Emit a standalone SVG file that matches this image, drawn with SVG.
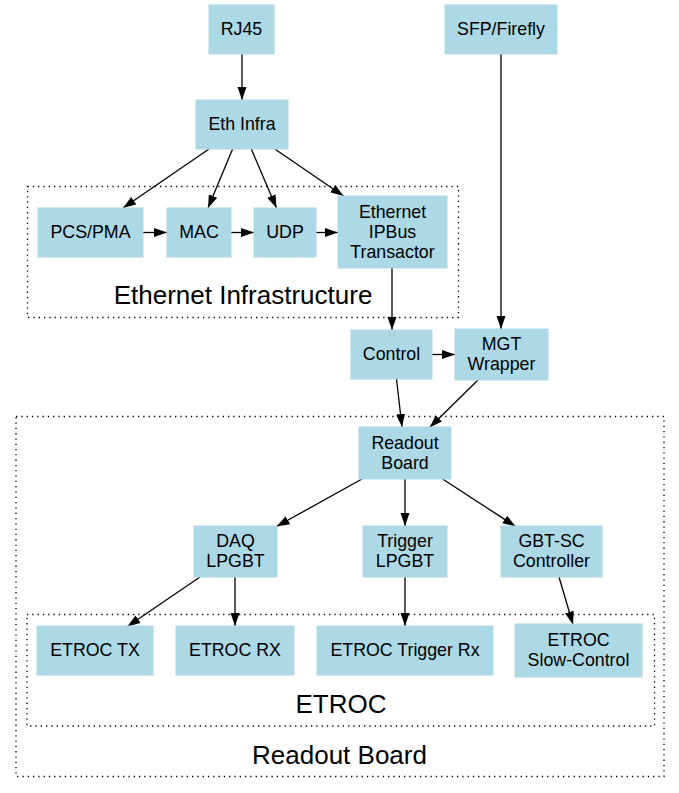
<svg xmlns="http://www.w3.org/2000/svg" width="679" height="793" viewBox="0 0 679 793">
<defs>
<marker id="ah" markerUnits="userSpaceOnUse" markerWidth="13" markerHeight="10" viewBox="0 0 13 9" refX="13" refY="4.5" orient="auto">
<path d="M0,0 L13,4.5 L0,9 z" fill="#000"/>
</marker>
<style>
.n rect{fill:#ADD8E6;stroke:#ADD8E6;stroke-width:1}
.n text{font-family:"Liberation Sans",Arial,sans-serif;font-size:17.8px;fill:#000;text-anchor:middle}
.c rect{fill:none;stroke:#000;stroke-width:1.3;stroke-dasharray:1.3,4}
.c text{font-family:"Liberation Sans",Arial,sans-serif;font-size:26px;fill:#000;text-anchor:middle}
.e line{stroke:#000;stroke-width:1.3;marker-end:url(#ah)}
</style>
</defs>
<rect width="679" height="793" fill="#fff"/>
<g id="clusters" class="c">
<g id="cluster_eth"><rect x="27.5" y="186.5" width="431" height="131"/><text x="243" y="304">Ethernet Infrastructure</text></g>
<g id="cluster_rb"><rect x="16" y="416.5" width="648" height="360"/><text x="339.5" y="764">Readout Board</text></g>
<g id="cluster_etroc"><rect x="27" y="614.5" width="627.5" height="111.5"/><text x="341" y="712.5">ETROC</text></g>
</g>
<g id="edges" class="e">
<line x1="242" y1="54" x2="242" y2="100"/>
<line x1="501" y1="54" x2="501" y2="329"/>
<line x1="209" y1="149" x2="123" y2="208"/>
<line x1="232.6" y1="149" x2="208" y2="208"/>
<line x1="251.3" y1="149" x2="276.5" y2="208"/>
<line x1="274.8" y1="149" x2="343.5" y2="196"/>
<line x1="143" y1="232.5" x2="167" y2="232.5"/>
<line x1="231" y1="232.5" x2="254" y2="232.5"/>
<line x1="316" y1="232.5" x2="338" y2="232.5"/>
<line x1="392" y1="268" x2="392" y2="330"/>
<line x1="432" y1="354.5" x2="455" y2="354.5"/>
<line x1="396.5" y1="379" x2="402" y2="427"/>
<line x1="478" y1="380" x2="429.6" y2="427.5"/>
<line x1="362" y1="479" x2="276.5" y2="526.5"/>
<line x1="405" y1="479" x2="405" y2="526"/>
<line x1="442.6" y1="479" x2="515.6" y2="526.5"/>
<line x1="200" y1="577" x2="127.4" y2="626.5"/>
<line x1="235" y1="577" x2="235" y2="626"/>
<line x1="405" y1="577" x2="405" y2="626"/>
<line x1="559" y1="577" x2="573" y2="624.5"/>
</g>
<g id="rj45" class="n"><rect x="209" y="5" width="65" height="49"/><text x="241.5" y="35">RJ45</text></g>
<g id="sfp" class="n"><rect x="445" y="5" width="112" height="49"/><text x="501" y="35">SFP/Firefly</text></g>
<g id="ethinfra" class="n"><rect x="196" y="100" width="92" height="49"/><text x="242" y="130">Eth Infra</text></g>
<g id="pcspma" class="n"><rect x="38" y="208" width="105" height="49"/><text x="90.5" y="238">PCS/PMA</text></g>
<g id="mac" class="n"><rect x="167" y="208" width="64" height="49"/><text x="199" y="238">MAC</text></g>
<g id="udp" class="n"><rect x="254" y="208" width="62" height="49"/><text x="285" y="238">UDP</text></g>
<g id="ipbus" class="n"><rect x="338" y="196" width="109" height="72"/><text x="392.5" y="217.5">Ethernet</text><text x="392.5" y="237.5">IPBus</text><text x="392.5" y="257.5">Transactor</text></g>
<g id="control" class="n"><rect x="351" y="330" width="81" height="49"/><text x="391.5" y="360">Control</text></g>
<g id="mgt" class="n"><rect x="455" y="329" width="93" height="51"/><text x="501.5" y="350">MGT</text><text x="501.5" y="370">Wrapper</text></g>
<g id="readout" class="n"><rect x="359" y="427" width="92" height="52"/><text x="405" y="448.5">Readout</text><text x="405" y="468.5">Board</text></g>
<g id="daq" class="n"><rect x="194" y="526" width="83" height="51"/><text x="235.5" y="547">DAQ</text><text x="235.5" y="567">LPGBT</text></g>
<g id="trig" class="n"><rect x="363" y="526" width="84" height="51"/><text x="405" y="547">Trigger</text><text x="405" y="567">LPGBT</text></g>
<g id="gbtsc" class="n"><rect x="501" y="526" width="101" height="51"/><text x="551.5" y="547">GBT-SC</text><text x="551.5" y="567">Controller</text></g>
<g id="etroctx" class="n"><rect x="37" y="626" width="116" height="49"/><text x="95" y="656">ETROC TX</text></g>
<g id="etrocrx" class="n"><rect x="176" y="626" width="118" height="49"/><text x="235" y="656">ETROC RX</text></g>
<g id="etroctrig" class="n"><rect x="317" y="626" width="176" height="49"/><text x="405" y="656">ETROC Trigger Rx</text></g>
<g id="etrocsc" class="n"><rect x="515" y="624" width="127" height="53"/><text x="578.5" y="646">ETROC</text><text x="578.5" y="666">Slow-Control</text></g>
</svg>
